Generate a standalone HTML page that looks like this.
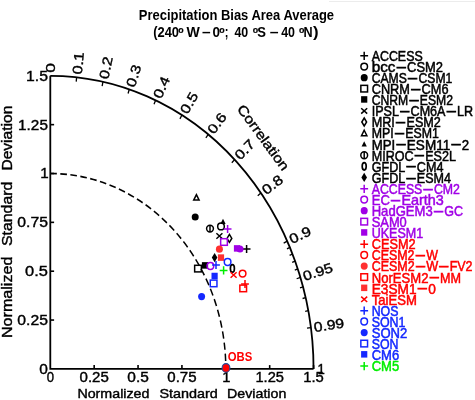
<!DOCTYPE html>
<html><head><meta charset="utf-8"><title>Taylor diagram</title>
<style>html,body{margin:0;padding:0;background:#fff}svg{display:block}</style></head>
<body>
<svg width="475" height="400" viewBox="0 0 475 400" font-family='"Liberation Sans", sans-serif'>
<rect width="475" height="400" fill="#fff"/>
<rect x="329" y="1" width="146" height="1" fill="#ececec"/>
<text x="138.80" y="20.30" font-size="14.25" fill="#000" textLength="195.30" lengthAdjust="spacingAndGlyphs" font-weight="bold">Precipitation Bias Area Average</text>
<text x="153.20" y="37.30" font-size="14.80" fill="#000" textLength="25.80" lengthAdjust="spacingAndGlyphs" font-weight="bold">(240</text>
<text x="180.90" y="32.90" font-size="8.80" fill="#000" text-anchor="middle" font-weight="bold" stroke="#000" stroke-width="0.2">o</text>
<text x="186.60" y="37.30" font-size="14.80" fill="#000" textLength="13.30" lengthAdjust="spacingAndGlyphs" font-weight="bold">W</text>
<text x="202.00" y="37.30" font-size="14.80" fill="#000" textLength="8.60" lengthAdjust="spacingAndGlyphs" font-weight="bold">–</text>
<text x="212.60" y="37.30" font-size="14.80" fill="#000" textLength="7.50" lengthAdjust="spacingAndGlyphs" font-weight="bold">0</text>
<text x="222.00" y="32.90" font-size="8.80" fill="#000" text-anchor="middle" font-weight="bold" stroke="#000" stroke-width="0.2">o</text>
<text x="224.80" y="37.30" font-size="14.80" fill="#000" textLength="3.70" lengthAdjust="spacingAndGlyphs" font-weight="bold">;</text>
<text x="234.40" y="37.30" font-size="14.80" fill="#000" textLength="13.80" lengthAdjust="spacingAndGlyphs" font-weight="bold">40</text>
<text x="255.50" y="32.90" font-size="8.80" fill="#000" text-anchor="middle" font-weight="bold" stroke="#000" stroke-width="0.2">o</text>
<text x="257.30" y="37.30" font-size="14.80" fill="#000" textLength="8.70" lengthAdjust="spacingAndGlyphs" font-weight="bold">S</text>
<text x="269.80" y="37.30" font-size="14.80" fill="#000" textLength="8.80" lengthAdjust="spacingAndGlyphs" font-weight="bold">–</text>
<text x="281.20" y="37.30" font-size="14.80" fill="#000" textLength="13.80" lengthAdjust="spacingAndGlyphs" font-weight="bold">40</text>
<text x="301.70" y="32.90" font-size="8.80" fill="#000" text-anchor="middle" font-weight="bold" stroke="#000" stroke-width="0.2">o</text>
<text x="303.60" y="37.30" font-size="14.80" fill="#000" textLength="9.10" lengthAdjust="spacingAndGlyphs" font-weight="bold">N</text>
<text x="313.00" y="37.30" font-size="14.80" fill="#000" textLength="5.60" lengthAdjust="spacingAndGlyphs" font-weight="bold">)</text>
<path d="M50.3 75.80 L50.3 368.9 L313.55 368.9" fill="none" stroke="#000" stroke-width="1.8" stroke-linejoin="miter"/>
<path d="M50.3 75.80 A263.25 293.10 0 0 1 313.55 368.9" fill="none" stroke="#000" stroke-width="1.8"/>
<g transform="translate(50.3 368.9) scale(1 1.1134)"><path d="M0 -175.50 A175.50 175.50 0 0 1 175.50 0" fill="none" stroke="#000" stroke-width="1.5" stroke-dasharray="6.6 3.47"/></g>
<text x="46.65" y="382.00" font-size="14.80" fill="#000" textLength="7.30" lengthAdjust="spacingAndGlyphs" stroke="#000" stroke-width="0.4">0</text>
<text x="39.30" y="373.80" font-size="15.20" fill="#000" textLength="8.60" lengthAdjust="spacingAndGlyphs" stroke="#000" stroke-width="0.4">0</text>
<path d="M94.17 368.9 v-3.8" stroke="#000" stroke-width="1.6"/>
<path d="M50.3 320.05 h3.8" stroke="#000" stroke-width="1.6"/>
<text x="79.52" y="382.00" font-size="14.80" fill="#000" textLength="29.30" lengthAdjust="spacingAndGlyphs" stroke="#000" stroke-width="0.4">0.25</text>
<text x="17.30" y="324.95" font-size="15.20" fill="#000" textLength="30.60" lengthAdjust="spacingAndGlyphs" stroke="#000" stroke-width="0.4">0.25</text>
<path d="M138.05 368.9 v-3.8" stroke="#000" stroke-width="1.6"/>
<path d="M50.3 271.20 h3.8" stroke="#000" stroke-width="1.6"/>
<text x="127.30" y="382.00" font-size="14.80" fill="#000" textLength="21.50" lengthAdjust="spacingAndGlyphs" stroke="#000" stroke-width="0.4">0.5</text>
<text x="25.10" y="276.10" font-size="15.20" fill="#000" textLength="22.80" lengthAdjust="spacingAndGlyphs" stroke="#000" stroke-width="0.4">0.5</text>
<path d="M181.93 368.9 v-3.8" stroke="#000" stroke-width="1.6"/>
<path d="M50.3 222.35 h3.8" stroke="#000" stroke-width="1.6"/>
<text x="167.28" y="382.00" font-size="14.80" fill="#000" textLength="29.30" lengthAdjust="spacingAndGlyphs" stroke="#000" stroke-width="0.4">0.75</text>
<text x="17.30" y="227.25" font-size="15.20" fill="#000" textLength="30.60" lengthAdjust="spacingAndGlyphs" stroke="#000" stroke-width="0.4">0.75</text>
<path d="M225.80 368.9 v-3.8" stroke="#000" stroke-width="1.6"/>
<path d="M50.3 173.50 h3.8" stroke="#000" stroke-width="1.6"/>
<text transform="translate(226.30 382) scale(0.25)" font-size="59.2" text-anchor="middle" stroke="#000" stroke-width="1.6">1</text>
<text transform="translate(48.6 178.40) scale(0.25)" font-size="60.8" text-anchor="end" stroke="#000" stroke-width="1.6">1</text>
<path d="M269.68 368.9 v-3.8" stroke="#000" stroke-width="1.6"/>
<path d="M50.3 124.65 h3.8" stroke="#000" stroke-width="1.6"/>
<text x="255.43" y="382.00" font-size="14.80" fill="#000" textLength="28.50" lengthAdjust="spacingAndGlyphs" stroke="#000" stroke-width="0.4">1.25</text>
<text x="18.10" y="129.55" font-size="15.20" fill="#000" textLength="29.80" lengthAdjust="spacingAndGlyphs" stroke="#000" stroke-width="0.4">1.25</text>
<path d="M313.55 368.9 v-3.8" stroke="#000" stroke-width="1.6"/>
<text x="303.25" y="382.00" font-size="14.80" fill="#000" textLength="20.60" lengthAdjust="spacingAndGlyphs" stroke="#000" stroke-width="0.4">1.5</text>
<text x="26.00" y="80.70" font-size="15.20" fill="#000" textLength="21.90" lengthAdjust="spacingAndGlyphs" stroke="#000" stroke-width="0.4">1.5</text>
<text x="77.40" y="397.80" font-size="12.90" fill="#000" textLength="72.10" lengthAdjust="spacingAndGlyphs" stroke="#000" stroke-width="0.4">Normalized</text>
<text x="159.40" y="397.80" font-size="12.90" fill="#000" textLength="58.50" lengthAdjust="spacingAndGlyphs" stroke="#000" stroke-width="0.4">Standard</text>
<text x="227.10" y="397.80" font-size="12.90" fill="#000" textLength="59.20" lengthAdjust="spacingAndGlyphs" stroke="#000" stroke-width="0.4">Deviation</text>
<text x="12.25" y="338.05" font-size="14.00" fill="#000" textLength="81.45" lengthAdjust="spacingAndGlyphs" transform="rotate(-90.00 12.25 338.05)" stroke="#000" stroke-width="0.4">Normalized</text>
<text x="12.25" y="246.05" font-size="14.00" fill="#000" textLength="64.35" lengthAdjust="spacingAndGlyphs" transform="rotate(-90.00 12.25 246.05)" stroke="#000" stroke-width="0.4">Standard</text>
<text x="12.25" y="170.55" font-size="14.00" fill="#000" textLength="64.85" lengthAdjust="spacingAndGlyphs" transform="rotate(-90.00 12.25 170.55)" stroke="#000" stroke-width="0.4">Deviation</text>
<path d="M76.62 77.27 L76.23 81.64" stroke="#000" stroke-width="1.3"/>
<path d="M102.95 81.72 L102.16 86.03" stroke="#000" stroke-width="1.3"/>
<path d="M129.27 89.30 L128.09 93.49" stroke="#000" stroke-width="1.3"/>
<path d="M155.60 100.27 L154.02 104.30" stroke="#000" stroke-width="1.3"/>
<path d="M181.92 115.07 L179.95 118.88" stroke="#000" stroke-width="1.3"/>
<path d="M208.25 134.42 L205.88 137.94" stroke="#000" stroke-width="1.3"/>
<path d="M234.57 159.58 L231.81 162.72" stroke="#000" stroke-width="1.3"/>
<path d="M260.90 193.04 L257.74 195.68" stroke="#000" stroke-width="1.3"/>
<path d="M287.23 241.14 L283.67 243.06" stroke="#000" stroke-width="1.3"/>
<path d="M300.39 277.38 L296.64 278.75" stroke="#000" stroke-width="1.3"/>
<path d="M310.92 327.55 L307.01 328.17" stroke="#000" stroke-width="1.3"/>
<path d="M289.86 247.38 L286.98 248.84" stroke="#000" stroke-width="1.3"/>
<path d="M292.49 254.03 L289.58 255.41" stroke="#000" stroke-width="1.3"/>
<path d="M295.12 261.17 L292.18 262.46" stroke="#000" stroke-width="1.3"/>
<path d="M297.75 268.90 L294.79 270.10" stroke="#000" stroke-width="1.3"/>
<path d="M303.02 286.83 L299.99 287.82" stroke="#000" stroke-width="1.3"/>
<path d="M305.65 297.65 L302.59 298.50" stroke="#000" stroke-width="1.3"/>
<path d="M308.29 310.57 L305.19 311.27" stroke="#000" stroke-width="1.3"/>
<text x="55.17" y="72.80" font-size="13.60" fill="#000" textLength="9.60" lengthAdjust="spacingAndGlyphs" transform="rotate(-90.00 55.17 72.80)" stroke="#000" stroke-width="0.4">0</text>
<text x="81.77" y="74.77" font-size="13.60" fill="#000" textLength="22.40" lengthAdjust="spacingAndGlyphs" transform="rotate(-84.26 81.77 74.77)" stroke="#000" stroke-width="0.4">0.1</text>
<text x="108.32" y="79.76" font-size="13.60" fill="#000" textLength="22.40" lengthAdjust="spacingAndGlyphs" transform="rotate(-78.46 108.32 79.76)" stroke="#000" stroke-width="0.4">0.2</text>
<text x="134.82" y="87.90" font-size="13.60" fill="#000" textLength="22.40" lengthAdjust="spacingAndGlyphs" transform="rotate(-72.54 134.82 87.90)" stroke="#000" stroke-width="0.4">0.3</text>
<text x="161.26" y="99.47" font-size="13.60" fill="#000" textLength="22.40" lengthAdjust="spacingAndGlyphs" transform="rotate(-66.42 161.26 99.47)" stroke="#000" stroke-width="0.4">0.4</text>
<text x="187.64" y="114.90" font-size="13.60" fill="#000" textLength="22.40" lengthAdjust="spacingAndGlyphs" transform="rotate(-60.00 187.64 114.90)" stroke="#000" stroke-width="0.4">0.5</text>
<text x="213.95" y="134.94" font-size="13.60" fill="#000" textLength="22.40" lengthAdjust="spacingAndGlyphs" transform="rotate(-53.13 213.95 134.94)" stroke="#000" stroke-width="0.4">0.6</text>
<text x="240.15" y="160.85" font-size="13.60" fill="#000" textLength="22.40" lengthAdjust="spacingAndGlyphs" transform="rotate(-45.57 240.15 160.85)" stroke="#000" stroke-width="0.4">0.7</text>
<text x="266.22" y="195.14" font-size="13.60" fill="#000" textLength="22.40" lengthAdjust="spacingAndGlyphs" transform="rotate(-36.87 266.22 195.14)" stroke="#000" stroke-width="0.4">0.8</text>
<text x="292.05" y="244.21" font-size="13.60" fill="#000" textLength="22.40" lengthAdjust="spacingAndGlyphs" transform="rotate(-25.84 292.05 244.21)" stroke="#000" stroke-width="0.4">0.9</text>
<text x="304.76" y="281.07" font-size="13.60" fill="#000" textLength="30.50" lengthAdjust="spacingAndGlyphs" transform="rotate(-18.19 304.76 281.07)" stroke="#000" stroke-width="0.4">0.95</text>
<text x="314.57" y="331.95" font-size="13.60" fill="#000" textLength="30.50" lengthAdjust="spacingAndGlyphs" transform="rotate(-8.11 314.57 331.95)" stroke="#000" stroke-width="0.4">0.99</text>
<text x="317.55" y="374.07" font-size="14.60" fill="#000" textLength="7.30" lengthAdjust="spacingAndGlyphs" stroke="#000" stroke-width="0.45">1</text>
<text font-size="13.6" textLength="77.8" lengthAdjust="spacingAndGlyphs" text-anchor="middle" transform="translate(263.4 137.5) rotate(53.8)" x="0" y="4.8" stroke="#000" stroke-width="0.4">Correlation</text>
<path d="M360.30 55.80 h7.8 M364.20 51.70 v8.2" stroke="#000" stroke-width="1.5" fill="none"/>
<text x="371.70" y="60.90" font-size="14.2" fill="#000" stroke="#000" stroke-width="0.5"><tspan textLength="51.00" lengthAdjust="spacingAndGlyphs">ACCESS</tspan></text>
<ellipse cx="364.20" cy="66.58" rx="3.3" ry="3.4" stroke="#000" stroke-width="1.5" fill="none"/>
<text x="371.70" y="71.98" font-size="14.2" fill="#000" stroke="#000" stroke-width="0.5"><tspan textLength="23.76" lengthAdjust="spacingAndGlyphs">bcc</tspan><tspan dy="-0.3" textLength="11.6" lengthAdjust="spacingAndGlyphs">-</tspan><tspan dy="0.3" textLength="35.94" lengthAdjust="spacingAndGlyphs">CSM2</tspan></text>
<ellipse cx="364.20" cy="77.67" rx="3.5" ry="3.6" fill="#000"/>
<text x="371.70" y="83.07" font-size="14.2" fill="#000" stroke="#000" stroke-width="0.5"><tspan textLength="35.18" lengthAdjust="spacingAndGlyphs">CAMS</tspan><tspan dy="-0.3" textLength="11.6" lengthAdjust="spacingAndGlyphs">-</tspan><tspan dy="0.3" textLength="33.82" lengthAdjust="spacingAndGlyphs">CSM1</tspan></text>
<rect x="360.85" y="85.35" width="6.7" height="6.6" stroke="#000" stroke-width="1.5" fill="none"/>
<text x="371.70" y="94.15" font-size="14.2" fill="#000" stroke="#000" stroke-width="0.5"><tspan textLength="38.27" lengthAdjust="spacingAndGlyphs">CNRM</tspan><tspan dy="-0.3" textLength="11.6" lengthAdjust="spacingAndGlyphs">-</tspan><tspan dy="0.3" textLength="26.93" lengthAdjust="spacingAndGlyphs">CM6</tspan></text>
<rect x="361.10" y="96.18" width="6.2" height="6.5" fill="#000"/>
<text x="371.70" y="105.23" font-size="14.2" fill="#000" stroke="#000" stroke-width="0.5"><tspan textLength="36.53" lengthAdjust="spacingAndGlyphs">CNRM</tspan><tspan dy="-0.3" textLength="11.6" lengthAdjust="spacingAndGlyphs">-</tspan><tspan dy="0.3" textLength="33.17" lengthAdjust="spacingAndGlyphs">ESM2</tspan></text>
<path d="M361.20 108.21 l6 5.4 M361.20 113.61 l6 -5.4" stroke="#000" stroke-width="1.5" fill="none"/>
<text x="371.70" y="116.31" font-size="14.2" fill="#000" stroke="#000" stroke-width="0.5"><tspan textLength="27.27" lengthAdjust="spacingAndGlyphs">IPSL</tspan><tspan dy="-0.3" textLength="11.6" lengthAdjust="spacingAndGlyphs">-</tspan><tspan dy="0.3" textLength="34.95" lengthAdjust="spacingAndGlyphs">CM6A</tspan><tspan dy="-0.3" textLength="11.6" lengthAdjust="spacingAndGlyphs">-</tspan><tspan dy="0.3" textLength="16.08" lengthAdjust="spacingAndGlyphs">LR</tspan></text>
<path d="M364.20 118.00 l2.4 4.0 l-2.4 4.0 l-2.4 -4.0 z" stroke="#000" stroke-width="1.5" fill="none" stroke-linejoin="miter"/>
<text x="371.70" y="127.40" font-size="14.2" fill="#000" stroke="#000" stroke-width="0.5"><tspan textLength="23.17" lengthAdjust="spacingAndGlyphs">MRI</tspan><tspan dy="-0.3" textLength="11.6" lengthAdjust="spacingAndGlyphs">-</tspan><tspan dy="0.3" textLength="34.43" lengthAdjust="spacingAndGlyphs">ESM2</tspan></text>
<path d="M364.20 130.28 l2.7 5.5 h-5.4 z" stroke="#000" stroke-width="1.5" fill="none" stroke-linejoin="miter"/>
<text x="371.70" y="138.48" font-size="14.2" fill="#000" stroke="#000" stroke-width="0.5"><tspan textLength="21.96" lengthAdjust="spacingAndGlyphs">MPI</tspan><tspan dy="-0.3" textLength="11.6" lengthAdjust="spacingAndGlyphs">-</tspan><tspan dy="0.3" textLength="33.64" lengthAdjust="spacingAndGlyphs">ESM1</tspan></text>
<path d="M364.20 141.26 l2.6 5.2 h-5.2 z" fill="#000"/>
<text x="371.70" y="149.56" font-size="14.2" fill="#000" stroke="#000" stroke-width="0.5"><tspan textLength="23.53" lengthAdjust="spacingAndGlyphs">MPI</tspan><tspan dy="-0.3" textLength="11.6" lengthAdjust="spacingAndGlyphs">-</tspan><tspan dy="0.3" textLength="43.41" lengthAdjust="spacingAndGlyphs">ESM11</tspan><tspan dy="-0.3" textLength="11.6" lengthAdjust="spacingAndGlyphs">-</tspan><tspan dy="0.3" textLength="7.36" lengthAdjust="spacingAndGlyphs">2</tspan></text>
<ellipse cx="364.20" cy="155.25" rx="3.4" ry="3.4" stroke="#000" stroke-width="1.5" fill="none"/>
<path d="M364.20 151.95 v6.6" stroke="#000" stroke-width="1.5"/>
<text x="371.70" y="160.65" font-size="14.2" fill="#000" stroke="#000" stroke-width="0.5"><tspan textLength="41.93" lengthAdjust="spacingAndGlyphs">MIROC</tspan><tspan dy="-0.3" textLength="11.6" lengthAdjust="spacingAndGlyphs">-</tspan><tspan dy="0.3" textLength="30.77" lengthAdjust="spacingAndGlyphs">ES2L</tspan></text>
<ellipse cx="364.20" cy="166.33" rx="2.0" ry="3.7" stroke="#000" stroke-width="1.7" fill="none"/>
<text x="371.70" y="171.73" font-size="14.2" fill="#000" stroke="#000" stroke-width="0.5"><tspan textLength="33.54" lengthAdjust="spacingAndGlyphs">GFDL</tspan><tspan dy="-0.3" textLength="11.6" lengthAdjust="spacingAndGlyphs">-</tspan><tspan dy="0.3" textLength="26.56" lengthAdjust="spacingAndGlyphs">CM4</tspan></text>
<path d="M364.20 172.81 l2.8 4.6 l-2.8 4.6 l-2.8 -4.6 z" fill="#000"/>
<text x="371.70" y="182.81" font-size="14.2" fill="#000" stroke="#000" stroke-width="0.5"><tspan textLength="33.50" lengthAdjust="spacingAndGlyphs">GFDL</tspan><tspan dy="-0.3" textLength="11.6" lengthAdjust="spacingAndGlyphs">-</tspan><tspan dy="0.3" textLength="34.20" lengthAdjust="spacingAndGlyphs">ESM4</tspan></text>
<path d="M360.30 188.80 h7.8 M364.20 184.70 v8.2" stroke="#a000e6" stroke-width="1.5" fill="none"/>
<text x="371.70" y="193.90" font-size="14.2" fill="#a000e6" stroke="#a000e6" stroke-width="0.5"><tspan textLength="50.62" lengthAdjust="spacingAndGlyphs">ACCESS</tspan><tspan dy="-0.3" textLength="11.6" lengthAdjust="spacingAndGlyphs">-</tspan><tspan dy="0.3" textLength="25.98" lengthAdjust="spacingAndGlyphs">CM2</tspan></text>
<ellipse cx="364.20" cy="199.58" rx="3.3" ry="3.4" stroke="#a000e6" stroke-width="1.5" fill="none"/>
<text x="371.70" y="204.98" font-size="14.2" fill="#a000e6" stroke="#a000e6" stroke-width="0.5"><tspan textLength="18.12" lengthAdjust="spacingAndGlyphs">EC</tspan><tspan dy="-0.3" textLength="11.6" lengthAdjust="spacingAndGlyphs">-</tspan><tspan dy="0.3" textLength="42.48" lengthAdjust="spacingAndGlyphs">Earth3</tspan></text>
<ellipse cx="364.20" cy="210.66" rx="3.5" ry="3.6" fill="#a000e6"/>
<text x="371.70" y="216.06" font-size="14.2" fill="#a000e6" stroke="#a000e6" stroke-width="0.5"><tspan textLength="61.00" lengthAdjust="spacingAndGlyphs">HadGEM3</tspan><tspan dy="-0.3" textLength="11.6" lengthAdjust="spacingAndGlyphs">-</tspan><tspan dy="0.3" textLength="18.80" lengthAdjust="spacingAndGlyphs">GC</tspan></text>
<rect x="360.85" y="218.34" width="6.7" height="6.6" stroke="#a000e6" stroke-width="1.5" fill="none"/>
<text x="371.70" y="227.15" font-size="14.2" fill="#a000e6" stroke="#a000e6" stroke-width="0.5"><tspan textLength="35.10" lengthAdjust="spacingAndGlyphs">SAM0</tspan></text>
<rect x="361.10" y="229.18" width="6.2" height="6.5" fill="#a000e6"/>
<text x="371.70" y="238.23" font-size="14.2" fill="#a000e6" stroke="#a000e6" stroke-width="0.5"><tspan textLength="51.50" lengthAdjust="spacingAndGlyphs">UKESM1</tspan></text>
<path d="M360.30 244.21 h7.8 M364.20 240.11 v8.2" stroke="#ff0000" stroke-width="1.5" fill="none"/>
<text x="371.70" y="249.31" font-size="14.2" fill="#ff0000" stroke="#ff0000" stroke-width="0.5"><tspan textLength="43.90" lengthAdjust="spacingAndGlyphs">CESM2</tspan></text>
<ellipse cx="364.20" cy="254.99" rx="3.3" ry="3.4" stroke="#ff0000" stroke-width="1.5" fill="none"/>
<text x="371.70" y="260.39" font-size="14.2" fill="#ff0000" stroke="#ff0000" stroke-width="0.5"><tspan textLength="42.86" lengthAdjust="spacingAndGlyphs">CESM2</tspan><tspan dy="-0.3" textLength="11.6" lengthAdjust="spacingAndGlyphs">-</tspan><tspan dy="0.3" textLength="11.74" lengthAdjust="spacingAndGlyphs">W</tspan></text>
<ellipse cx="364.20" cy="266.08" rx="3.5" ry="3.6" fill="#ff3030"/>
<text x="371.70" y="271.48" font-size="14.2" fill="#ff0000" stroke="#ff0000" stroke-width="0.5"><tspan textLength="42.96" lengthAdjust="spacingAndGlyphs">CESM2</tspan><tspan dy="-0.3" textLength="11.6" lengthAdjust="spacingAndGlyphs">-</tspan><tspan dy="0.3" textLength="11.77" lengthAdjust="spacingAndGlyphs">W</tspan><tspan dy="-0.3" textLength="11.6" lengthAdjust="spacingAndGlyphs">-</tspan><tspan dy="0.3" textLength="22.87" lengthAdjust="spacingAndGlyphs">FV2</tspan></text>
<rect x="360.85" y="273.76" width="6.7" height="6.6" stroke="#ff0000" stroke-width="1.5" fill="none"/>
<text x="371.70" y="282.56" font-size="14.2" fill="#ff0000" stroke="#ff0000" stroke-width="0.5"><tspan textLength="56.76" lengthAdjust="spacingAndGlyphs">NorESM2</tspan><tspan dy="-0.3" textLength="11.6" lengthAdjust="spacingAndGlyphs">-</tspan><tspan dy="0.3" textLength="21.04" lengthAdjust="spacingAndGlyphs">MM</tspan></text>
<rect x="361.10" y="284.59" width="6.2" height="6.5" fill="#ff3030"/>
<text x="371.70" y="293.64" font-size="14.2" fill="#ff0000" stroke="#ff0000" stroke-width="0.5"><tspan textLength="44.89" lengthAdjust="spacingAndGlyphs">E3SM1</tspan><tspan dy="-0.3" textLength="11.6" lengthAdjust="spacingAndGlyphs">-</tspan><tspan dy="0.3" textLength="7.61" lengthAdjust="spacingAndGlyphs">0</tspan></text>
<path d="M361.20 296.63 l6 5.4 M361.20 302.03 l6 -5.4" stroke="#ff0000" stroke-width="1.5" fill="none"/>
<text x="371.70" y="304.73" font-size="14.2" fill="#ff0000" stroke="#ff0000" stroke-width="0.5"><tspan textLength="45.20" lengthAdjust="spacingAndGlyphs">TaiESM</tspan></text>
<path d="M360.30 310.71 h7.8 M364.20 306.61 v8.2" stroke="#1428ff" stroke-width="1.5" fill="none"/>
<text x="371.70" y="315.81" font-size="14.2" fill="#1428ff" stroke="#1428ff" stroke-width="0.5"><tspan textLength="26.80" lengthAdjust="spacingAndGlyphs">NOS</tspan></text>
<ellipse cx="364.20" cy="321.49" rx="3.3" ry="3.4" stroke="#1428ff" stroke-width="1.5" fill="none"/>
<text x="371.70" y="326.89" font-size="14.2" fill="#1428ff" stroke="#1428ff" stroke-width="0.5"><tspan textLength="33.80" lengthAdjust="spacingAndGlyphs">SON1</tspan></text>
<ellipse cx="364.20" cy="332.57" rx="3.5" ry="3.6" fill="#1428ff"/>
<text x="371.70" y="337.97" font-size="14.2" fill="#1428ff" stroke="#1428ff" stroke-width="0.5"><tspan textLength="35.60" lengthAdjust="spacingAndGlyphs">SON2</tspan></text>
<rect x="360.85" y="340.26" width="6.7" height="6.6" stroke="#1428ff" stroke-width="1.5" fill="none"/>
<text x="371.70" y="349.06" font-size="14.2" fill="#1428ff" stroke="#1428ff" stroke-width="0.5"><tspan textLength="26.80" lengthAdjust="spacingAndGlyphs">SON</tspan></text>
<rect x="361.10" y="351.09" width="6.2" height="6.5" fill="#1428ff"/>
<text x="371.70" y="360.14" font-size="14.2" fill="#1428ff" stroke="#1428ff" stroke-width="0.5"><tspan textLength="27.50" lengthAdjust="spacingAndGlyphs">CM6</tspan></text>
<path d="M360.30 366.12 h7.8 M364.20 362.02 v8.2" stroke="#00ee00" stroke-width="1.5" fill="none"/>
<text x="371.70" y="371.22" font-size="14.2" fill="#00ee00" stroke="#00ee00" stroke-width="0.5"><tspan textLength="27.50" lengthAdjust="spacingAndGlyphs">CM5</tspan></text>
<path d="M242.70 249.00 h7.8 M246.60 244.90 v8.2" stroke="#000" stroke-width="1.5" fill="none"/>
<ellipse cx="221.00" cy="226.40" rx="3.3" ry="3.4" stroke="#000" stroke-width="1.5" fill="none"/>
<ellipse cx="195.20" cy="217.00" rx="3.5" ry="3.6" fill="#000"/>
<rect x="194.65" y="265.30" width="6.7" height="6.6" stroke="#000" stroke-width="1.5" fill="none"/>
<rect x="201.90" y="262.15" width="6.2" height="6.5" fill="#000"/>
<path d="M216.40 233.30 l6 5.4 M216.40 238.70 l6 -5.4" stroke="#000" stroke-width="1.5" fill="none"/>
<path d="M229.40 234.40 l2.4 4.0 l-2.4 4.0 l-2.4 -4.0 z" stroke="#000" stroke-width="1.5" fill="none" stroke-linejoin="miter"/>
<path d="M196.40 194.60 l2.7 5.5 h-5.4 z" stroke="#000" stroke-width="1.5" fill="none" stroke-linejoin="miter"/>
<path d="M223.00 218.70 l2.6 5.2 h-5.2 z" fill="#000"/>
<ellipse cx="210.00" cy="228.60" rx="3.4" ry="3.4" stroke="#000" stroke-width="1.5" fill="none"/>
<path d="M210.00 225.30 v6.6" stroke="#000" stroke-width="1.5"/>
<ellipse cx="232.40" cy="268.40" rx="2.0" ry="3.7" stroke="#000" stroke-width="1.7" fill="none"/>
<path d="M214.60 253.00 l2.8 4.6 l-2.8 4.6 l-2.8 -4.6 z" fill="#000"/>
<path d="M223.70 229.00 h7.8 M227.60 224.90 v8.2" stroke="#a000e6" stroke-width="1.5" fill="none"/>
<ellipse cx="210.40" cy="266.00" rx="3.3" ry="3.4" stroke="#a000e6" stroke-width="1.5" fill="none"/>
<ellipse cx="240.00" cy="249.00" rx="3.5" ry="3.6" fill="#a000e6"/>
<rect x="220.65" y="238.70" width="6.7" height="6.6" stroke="#a000e6" stroke-width="1.5" fill="none"/>
<rect x="233.90" y="245.15" width="6.2" height="6.5" fill="#a000e6"/>
<path d="M241.10 284.00 h7.8 M245.00 279.90 v8.2" stroke="#ff0000" stroke-width="1.5" fill="none"/>
<ellipse cx="242.60" cy="273.60" rx="3.3" ry="3.4" stroke="#ff0000" stroke-width="1.5" fill="none"/>
<ellipse cx="219.40" cy="249.20" rx="3.5" ry="3.6" fill="#ff3030"/>
<rect x="239.85" y="285.10" width="6.7" height="6.6" stroke="#ff0000" stroke-width="1.5" fill="none"/>
<rect x="217.90" y="254.35" width="6.2" height="6.5" fill="#ff3030"/>
<path d="M230.60 272.30 l6 5.4 M230.60 277.70 l6 -5.4" stroke="#ff0000" stroke-width="1.5" fill="none"/>
<path d="M212.10 265.00 h7.8 M216.00 260.90 v8.2" stroke="#1428ff" stroke-width="1.5" fill="none"/>
<ellipse cx="227.60" cy="262.00" rx="3.3" ry="3.4" stroke="#1428ff" stroke-width="1.5" fill="none"/>
<ellipse cx="201.60" cy="296.60" rx="3.5" ry="3.6" fill="#1428ff"/>
<rect x="210.25" y="280.10" width="6.7" height="6.6" stroke="#1428ff" stroke-width="1.5" fill="none"/>
<rect x="211.50" y="272.75" width="6.2" height="6.5" fill="#1428ff"/>
<path d="M219.70 270.40 h7.8 M223.60 266.30 v8.2" stroke="#00ee00" stroke-width="1.5" fill="none"/>
<ellipse cx="226.00" cy="367.90" rx="3.9" ry="4.3" fill="#ff0000" stroke="#1f4f9f" stroke-width="1.1"/>
<text x="227.80" y="361.20" font-size="12.20" fill="#ff0000" textLength="24.50" lengthAdjust="spacingAndGlyphs" font-weight="bold">OBS</text>
</svg>
</body></html>
